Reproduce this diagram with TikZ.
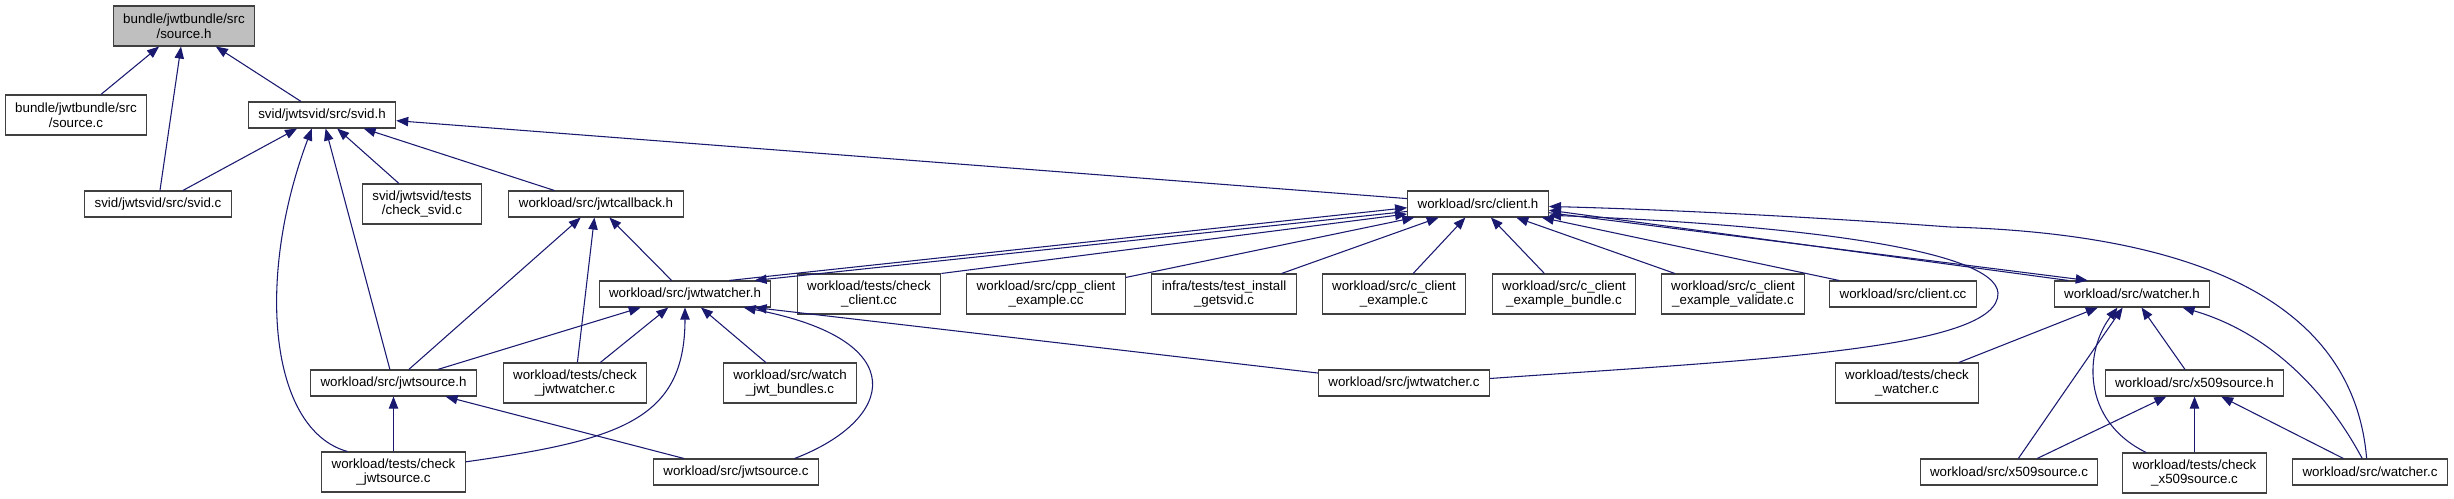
\documentclass[tikz,border=0pt]{standalone}
\usepackage{fontspec}
\setmainfont{Liberation Sans}
\usetikzlibrary{arrows.meta}
\definecolor{edgeblue}{HTML}{191970}
\definecolor{boxgray}{HTML}{404040}
\definecolor{curfile}{HTML}{BFBFBF}

\begin{document}
\begin{tikzpicture}[x=0.75pt,y=-0.75pt,>={Triangle[length=9pt,width=7pt]},
    every node/.style={font=\fontsize{10}{11}\selectfont},
    file/.style={rectangle,draw=boxgray,line width=0.8pt,fill=white,align=center,inner xsep=7.5pt,inner ysep=2pt,minimum height=19.5pt},
    file2/.style={file,minimum height=30pt},
    dep/.style={->,edgeblue,line width=0.8pt}]
        \useasboundingbox (0,0) rectangle (2454,499);
        % rank 0 and 1
        \node[file2,fill=curfile] (srch) at (184,26) {bundle/jwtbundle/src\\/source.h};
        \node[file2] (srcc) at (76,115) {bundle/jwtbundle/src\\/source.c};
        \node[file] (svidh) at (322,115) {svid/jwtsvid/src/svid.h};
        % rank 2
        \node[file] (svidc) at (158,204) {svid/jwtsvid/src/svid.c};
        \node[file2] (chksvid) at (422,204) {svid/jwtsvid/tests\\/check\_svid.c};
        \node[file] (jwtcb) at (596,204) {workload/src/jwtcallback.h};
        \node[file] (clienth) at (1478,204) {workload/src/client.h};
        % rank 3
        \node[file] (jwtwh) at (685,294) {workload/src/jwtwatcher.h};
        \node[file2] (chkclient) at (869,294) {workload/tests/check\\\_client.cc};
        \node[file2] (cppex) at (1046,294) {workload/src/cpp\_client\\\_example.cc};
        \node[file2] (getsvid) at (1224,294) {infra/tests/test\_install\\\_getsvid.c};
        \node[file2] (cex) at (1394,294) {workload/src/c\_client\\\_example.c};
        \node[file2] (cexbundle) at (1564,294) {workload/src/c\_client\\\_example\_bundle.c};
        \node[file2] (cexvalid) at (1733,294) {workload/src/c\_client\\\_example\_validate.c};
        \node[file] (clientcc) at (1903,294) {workload/src/client.cc};
        \node[file] (watcherh) at (2132,294) {workload/src/watcher.h};
        % rank 4
        \node[file] (jwtsh) at (393.5,383) {workload/src/jwtsource.h};
        \node[file2] (chkjwtw) at (575,383) {workload/tests/check\\\_jwtwatcher.c};
        \node[file2] (watchjwt) at (790,383) {workload/src/watch\\\_jwt\_bundles.c};
        \node[file] (jwtwc) at (1404,383) {workload/src/jwtwatcher.c};
        \node[file2] (chkwatcher) at (1907,383) {workload/tests/check\\\_watcher.c};
        \node[file] (x509h) at (2194.5,383) {workload/src/x509source.h};
        % rank 5
        \node[file2] (chkjwts) at (393.5,472) {workload/tests/check\\\_jwtsource.c};
        \node[file] (jwtsc) at (736,472) {workload/src/jwtsource.c};
        \node[file] (x509c) at (2009,472) {workload/src/x509source.c};
        \node[file2] (chkx509) at (2194.5,473) {workload/tests/check\\\_x509source.c};
        \node[file] (watcherc) at (2370,472) {workload/src/watcher.c};
        % includes of source.h and svid.h
        \draw[dep] (srcc) -- (srch);
        \draw[dep] (svidc) -- (srch);
        \draw[dep] (svidh) -- (srch);
        \draw[dep] (svidc) -- (svidh);
        \draw[dep] (chkjwts.156) .. controls (270,430) and (255,280) .. (svidh.-127);
        \draw[dep] (jwtsh) -- (svidh);
        \draw[dep] (chksvid) -- (svidh);
        \draw[dep] (jwtcb) -- (svidh);
        \draw[dep] (clienth) -- (svidh);
        % jwtcallback.h and jwtwatcher.h
        \draw[dep] (jwtsh) -- (jwtcb);
        \draw[dep] (chkjwtw) -- (jwtcb);
        \draw[dep] (jwtwh) -- (jwtcb);
        \draw[dep] (jwtsh) -- (jwtwh);
        \draw[dep] (chkjwtw) -- (jwtwh);
        \draw[dep] (chkjwts.8) .. controls (620,440) and (685,420) .. (jwtwh.south);
        \draw[dep] (watchjwt) -- (jwtwh);
        \draw[dep] (jwtsc.13) .. controls (895,420) and (915,340) .. (jwtwh.-13);
        \draw[dep] (jwtwc) -- (jwtwh.-11);
        \draw[dep] (chkjwts) -- (jwtsh);
        \draw[dep] (jwtsc) -- (jwtsh);
        % client.h
        \draw[dep] (jwtwh.17) -- (clienth.183);
        \draw[dep] (clienth.186) -- (jwtwh.11);
        \draw[dep] (chkclient.north east) -- (clienth.188);
        \draw[dep] (cppex) -- (clienth.192);
        \draw[dep] (getsvid) -- (clienth.199);
        \draw[dep] (cex) -- (clienth);
        \draw[dep] (cexbundle) -- (clienth);
        \draw[dep] (cexvalid) -- (clienth);
        \draw[dep] (clientcc) -- (clienth);
        \draw[dep] (watcherh.168) -- (clienth.-5);
        \draw[dep] (clienth.-7) -- (watcherh.163);
        \draw[dep] (jwtwc.3) .. controls (1750,360) and (2000,350) .. (1998,293) .. controls (1995,250) and (1800,225) .. (clienth.-9);
        \draw[dep] (watcherc.104) .. controls (2355,320) and (2230,235) .. (1950,227) .. controls (1800,216) and (1650,209) .. (clienth.-2);
        % watcher.h and x509source.h
        \draw[dep] (chkwatcher) -- (watcherh);
        \draw[dep] (x509c) -- (watcherh);
        \draw[dep] (chkx509.157) .. controls (2080,420) and (2085,350) .. (watcherh.223);
        \draw[dep] (x509h) -- (watcherh);
        \draw[dep] (watcherc.120) .. controls (2320,380) and (2260,330) .. (watcherh.-15);
        \draw[dep] (x509c) -- (x509h);
        \draw[dep] (chkx509) -- (x509h);
        \draw[dep] (watcherc) -- (x509h);
      \end{tikzpicture}
\end{document}
